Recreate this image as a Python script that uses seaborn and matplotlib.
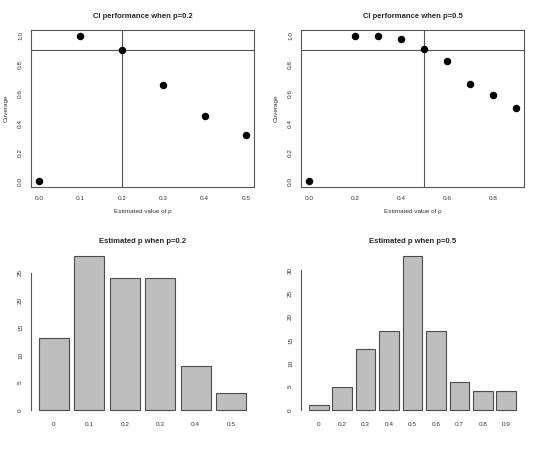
import numpy as np
import pandas as pd
import seaborn as sns
import matplotlib
matplotlib.use("Agg")
import matplotlib.pyplot as plt

# coverage of the CI for each estimated value of p
p_est_02 = [0.0, 0.1, 0.2, 0.3, 0.4, 0.5]
cover_02 = [0.0, 1.0, 0.90, 0.665, 0.45, 0.32]
p_est_05 = [0.0, 0.2, 0.3, 0.4, 0.5, 0.6, 0.7, 0.8, 0.9]
cover_05 = [0.0, 1.0, 1.0, 0.975, 0.91, 0.825, 0.67, 0.595, 0.50]

# histogram of the estimated p
hist_lab_02 = ["0", "0.1", "0.2", "0.3", "0.4", "0.5"]
hist_cnt_02 = [13, 28, 24, 24, 8, 3]
hist_lab_05 = ["0", "0.2", "0.3", "0.4", "0.5", "0.6", "0.7", "0.8", "0.9"]
hist_cnt_05 = [1, 5, 13, 17, 33, 17, 6, 4, 4]

true_p = [0.2, 0.5]
target = 0.9

sns.set_style("white")
plt.rcParams["font.family"] = ["Liberation Sans", "DejaVu Sans"]
plt.rcParams["font.size"] = 4.6

fig = plt.figure(figsize=(5.4, 4.5), dpi=100)
W, H = 540, 450
grey = "#555555"


def make_ax(left, top, right, bottom):
    return fig.add_axes([left / W, 1 - bottom / H, (right - left) / W, (bottom - top) / H])


def style_ticks(ax):
    ax.tick_params(axis="both", colors=grey, labelcolor="#333333", labelsize=4.6,
                   length=3, width=0.7, direction="out", pad=2.5)
    ax.tick_params(axis="y", labelrotation=90)
    for t in ax.get_yticklabels():
        t.set_va("center")


def coverage_panel(ax, xs, ys, p, xticks):
    df = pd.DataFrame({"p": xs, "cov": ys})
    ax.axvline(p, color=grey, lw=0.8, zorder=1)
    ax.axhline(target, color=grey, lw=0.8, zorder=1)
    sns.scatterplot(data=df, x="p", y="cov", ax=ax, color="black", s=29,
                    edgecolor="black", linewidth=0, zorder=3)
    span = max(xs) - min(xs)
    ax.set_xlim(min(xs) - 0.04 * span, max(xs) + 0.04 * span)
    ax.set_ylim(-0.04, 1.04)
    ax.set_xticks(xticks)
    ax.set_xticklabels([f"{v:.1f}" for v in xticks])
    ax.set_yticks([0, 0.2, 0.4, 0.6, 0.8, 1.0])
    ax.set_yticklabels(["0.0", "0.2", "0.4", "0.6", "0.8", "1.0"])
    for s in ax.spines.values():
        s.set_visible(True)
        s.set_color(grey)
        s.set_linewidth(0.8)
    style_ticks(ax)
    ax.tick_params(axis="x", pad=3.2)
    ax.set_xlabel("Estimated value of p", fontsize=4.6, color="#333333", labelpad=6)
    ax.set_ylabel("Coverage", fontsize=4.6, color="#333333", labelpad=6.5)
    ax.set_title(f"CI performance when p={p}", fontsize=5.5, fontweight="bold", pad=8.5)


def hist_panel(ax, labels, counts, p, yticks):
    df = pd.DataFrame({"lab": labels, "n": counts})
    w = 1 / 1.2
    sns.barplot(data=df, x="lab", y="n", ax=ax, color="#bebebe", saturation=1,
                width=w, edgecolor="#4d4d4d", linewidth=0.8)
    n = len(labels)
    span = n - 1 + w
    ax.set_xlim(-w / 2 - 0.04 * span, n - 1 + w / 2 + 0.04 * span)
    top = max(counts)
    ax.set_ylim(-0.04 * top, top * 1.04)
    ax.set_yticks(yticks)
    for side in ["top", "right", "bottom"]:
        ax.spines[side].set_visible(False)
    ax.spines["left"].set_visible(True)
    ax.spines["left"].set_color(grey)
    ax.spines["left"].set_linewidth(0.8)
    ax.spines["left"].set_bounds(yticks[0], yticks[-1])
    style_ticks(ax)
    ax.tick_params(axis="x", length=0, pad=4)
    ax.set_xlabel("")
    ax.set_ylabel("")
    ax.set_title(f"Estimated p when p={p}", fontsize=5.5, fontweight="bold", pad=5)


ax1 = make_ax(30.7, 30, 254.3, 187)
ax2 = make_ax(300.7, 30, 524.3, 187)
ax3 = make_ax(30.7, 250, 254.3, 416)
ax4 = make_ax(300.7, 250, 524.3, 416)

coverage_panel(ax1, p_est_02, cover_02, true_p[0], [0.0, 0.1, 0.2, 0.3, 0.4, 0.5])
coverage_panel(ax2, p_est_05, cover_05, true_p[1], [0.0, 0.2, 0.4, 0.6, 0.8])
hist_panel(ax3, hist_lab_02, hist_cnt_02, true_p[0], [0, 5, 10, 15, 20, 25])
hist_panel(ax4, hist_lab_05, hist_cnt_05, true_p[1], [0, 5, 10, 15, 20, 25, 30])

fig.savefig("out.png", dpi=100, facecolor="white")
